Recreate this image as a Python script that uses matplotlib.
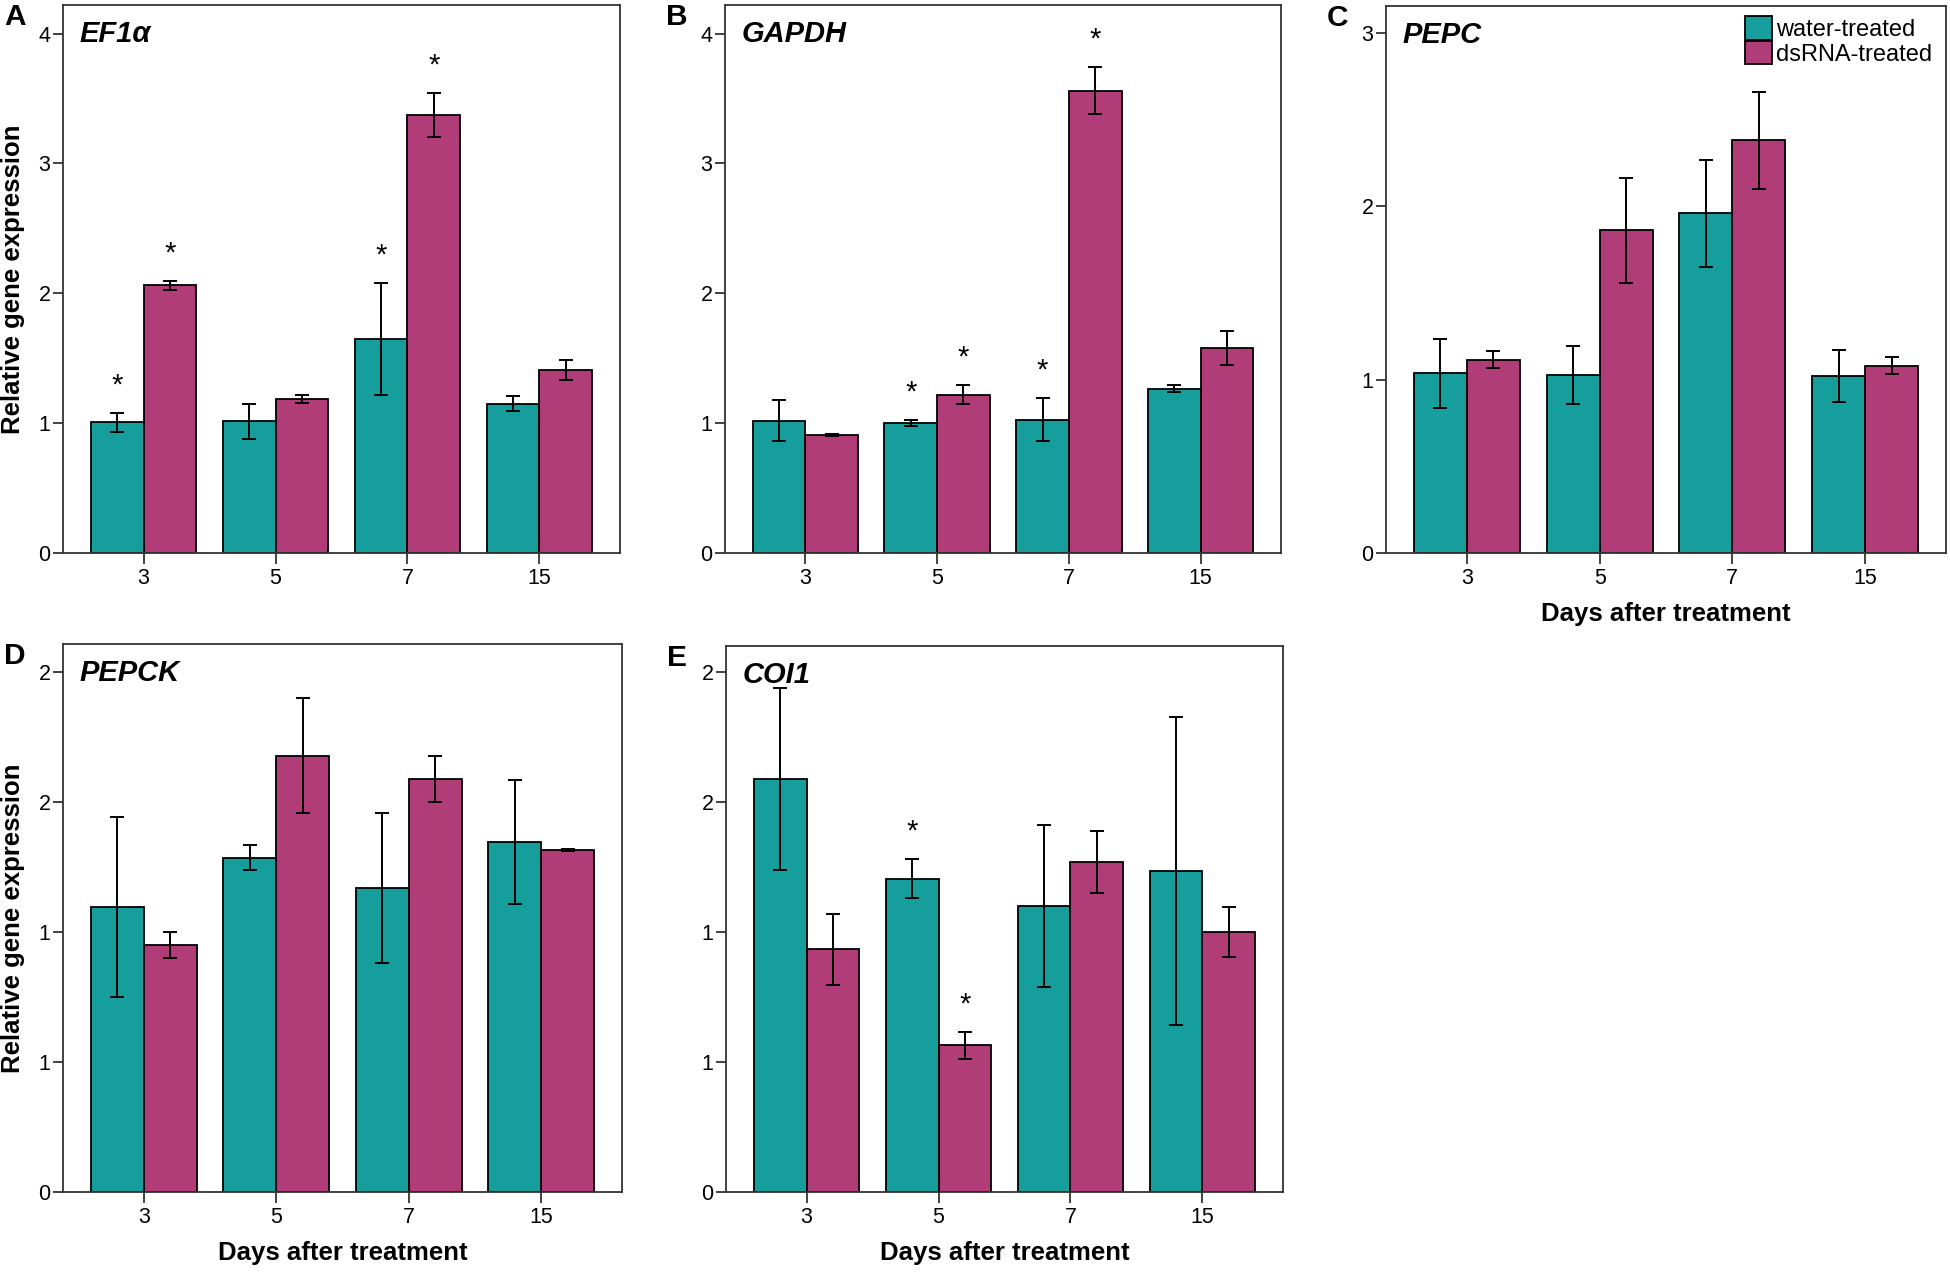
import numpy as np
import matplotlib
matplotlib.use('Agg')
import matplotlib.pyplot as plt
from matplotlib.ticker import FuncFormatter

plt.rcParams['font.family'] = ['Liberation Sans', 'DejaVu Sans']

#-------------------------------------
# Data
#-------------------------------------
days = ['3', '5', '7', '15']

ef1a_water = [1.005, 1.015, 1.65, 1.15]
ef1a_water_err = [0.075, 0.135, 0.43, 0.06]
ef1a_ds = [2.06, 1.185, 3.37, 1.41]
ef1a_ds_err = [0.037, 0.03, 0.17, 0.08]
ef1a_sig_water = [1, 0, 1, 0]
ef1a_sig_ds = [1, 0, 1, 0]

gapdh_water = [1.02, 1.0, 1.025, 1.265]
gapdh_water_err = [0.155, 0.025, 0.165, 0.028]
gapdh_ds = [0.91, 1.22, 3.56, 1.58]
gapdh_ds_err = [0.01, 0.07, 0.18, 0.13]
gapdh_sig_water = [0, 1, 1, 0]
gapdh_sig_ds = [0, 1, 1, 0]

pepc_water = [1.035, 1.026, 1.958, 1.021]
pepc_water_err = [0.2, 0.17, 0.31, 0.15]
pepc_ds = [1.115, 1.859, 2.379, 1.08]
pepc_ds_err = [0.048, 0.305, 0.28, 0.05]
pepc_sig_water = [0, 0, 0, 0]
pepc_sig_ds = [0, 0, 0, 0]

pepck_water = [1.096, 1.285, 1.169, 1.346]
pepck_water_err = [0.345, 0.048, 0.289, 0.24]
pepck_ds = [0.951, 1.678, 1.59, 1.317]
pepck_ds_err = [0.05, 0.222, 0.088, 0.004]
pepck_sig_water = [0, 0, 0, 0]
pepck_sig_ds = [0, 0, 0, 0]

coi1_water = [1.59, 1.205, 1.10, 1.234]
coi1_water_err = [0.35, 0.075, 0.31, 0.593]
coi1_ds = [0.933, 0.565, 1.27, 1.0]
coi1_ds_err = [0.137, 0.052, 0.12, 0.095]
coi1_sig_water = [0, 1, 0, 0]
coi1_sig_ds = [0, 1, 0, 0]

teal = '#159e9b'
magenta = '#b03d78'
spine_col = '#333333'

#-------------------------------------
# Panel layout (pixel boxes -> figure fractions)
#-------------------------------------
W, H = 1950, 1272
fig = plt.figure(figsize=(W / 100, H / 100), dpi=100)

panels = [
    # letter, gene, water, werr, ds, derr, sigw, sigd, box, ytop, yticks, ylabel?, xlabel?
    ('A', 'EF1α', ef1a_water, ef1a_water_err, ef1a_ds, ef1a_ds_err,
     ef1a_sig_water, ef1a_sig_ds, (63, 5, 620, 553), 4.22, [0, 1, 2, 3, 4], True, False),
    ('B', 'GAPDH', gapdh_water, gapdh_water_err, gapdh_ds, gapdh_ds_err,
     gapdh_sig_water, gapdh_sig_ds, (725, 5, 1281, 553), 4.22, [0, 1, 2, 3, 4], False, False),
    ('C', 'PEPC', pepc_water, pepc_water_err, pepc_ds, pepc_ds_err,
     pepc_sig_water, pepc_sig_ds, (1386, 6, 1946, 553), 3.153, [0, 1, 2, 3], False, True),
    ('D', 'PEPCK', pepck_water, pepck_water_err, pepck_ds, pepck_ds_err,
     pepck_sig_water, pepck_sig_ds, (63, 644, 622, 1192), 2.108, [0, 0.5, 1, 1.5, 2], True, True),
    ('E', 'COI1', coi1_water, coi1_water_err, coi1_ds, coi1_ds_err,
     coi1_sig_water, coi1_sig_ds, (726, 646, 1283, 1192), 2.10, [0, 0.5, 1, 1.5, 2], False, True),
]

x = np.arange(len(days))
bw = 0.4

for (letter, gene, wm, we, dm, de, sw, sd, box, ytop, yt, ylab, xlab) in panels:
    l, t, r, b = box
    ax = fig.add_axes([l / W, 1 - b / H, (r - l) / W, (b - t) / H])

    ax.bar(x - bw / 2, wm, bw, color=teal, edgecolor='black', linewidth=1.3,
           label='water-treated', zorder=2)
    ax.bar(x + bw / 2, dm, bw, color=magenta, edgecolor='black', linewidth=1.3,
           label='dsRNA-treated', zorder=2)
    ax.errorbar(x - bw / 2, wm, yerr=we, fmt='none', ecolor='black', elinewidth=1.4,
                capsize=5, capthick=1.4, zorder=3)
    ax.errorbar(x + bw / 2, dm, yerr=de, fmt='none', ecolor='black', elinewidth=1.4,
                capsize=5, capthick=1.4, zorder=3)

    # significance stars above the error bars
    for i in range(len(days)):
        if sw[i]:
            ax.annotate('*', (x[i] - bw / 2, wm[i] + we[i]), xytext=(0, 14),
                        textcoords='offset points', ha='center', va='baseline', fontsize=21)
        if sd[i]:
            ax.annotate('*', (x[i] + bw / 2, dm[i] + de[i]), xytext=(0, 14),
                        textcoords='offset points', ha='center', va='baseline', fontsize=21)

    ax.set_xlim(-0.61, 3.61)
    ax.set_ylim(0, ytop)
    ax.set_xticks(x)
    ax.set_xticklabels(days)
    ax.set_yticks(yt)
    # the original rounds the tick values to whole numbers (0.5 -> 1, 1.5 -> 2)
    ax.yaxis.set_major_formatter(FuncFormatter(lambda v, p: str(int(v + 0.5))))
    ax.tick_params(axis='y', direction='out', length=7, width=1.3, labelsize=15.5, pad=2,
                   color=spine_col)
    ax.tick_params(axis='x', direction='out', length=8, width=1.3, labelsize=15.5, pad=3,
                   color=spine_col)
    for s in ax.spines.values():
        s.set_color(spine_col)
        s.set_linewidth(1.3)

    ax.text(0.029, 0.947, gene, transform=ax.transAxes, ha='left', va='center',
            fontsize=21, fontweight='bold', fontstyle='italic')
    fig.text((l - 59) / W, 1 - (t + 12) / H, letter, ha='left', va='center',
             fontsize=21.5, fontweight='bold')

    if ylab:
        ax.set_ylabel('Relative gene expression', fontsize=18.5, fontweight='bold')
        ax.yaxis.set_label_coords(-0.068, 0.5)
    if xlab:
        ax.set_xlabel('Days after treatment', fontsize=18.5, fontweight='bold', labelpad=9)

    if letter == 'C':
        ax.legend(loc='upper right', bbox_to_anchor=(0.983, 0.99), frameon=False,
                  fontsize=17, handlelength=1.15, handleheight=1.15, handletextpad=0.15,
                  labelspacing=0.0, borderpad=0.2, borderaxespad=0.0)

plt.savefig('out.png', dpi=100)
